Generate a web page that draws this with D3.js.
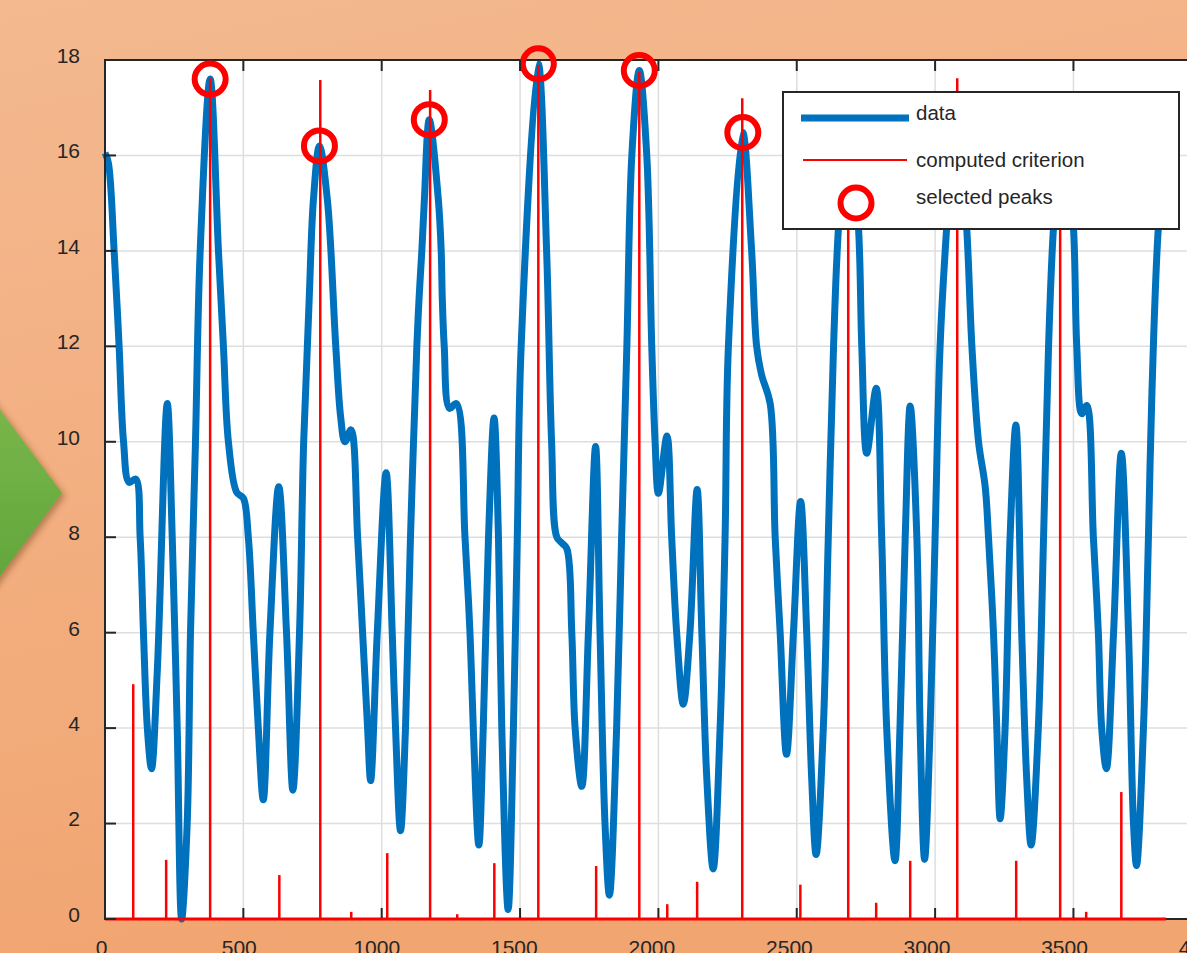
<!DOCTYPE html>
<html>
<head>
<meta charset="utf-8">
<script src="https://cdnjs.cloudflare.com/ajax/libs/d3/7.8.5/d3.min.js"></script>
<style>
  html, body { margin: 0; padding: 0; overflow: hidden; background: #f2ae80; }
  svg { display: block; }
</style>
</head>
<body>
<svg class="chart"></svg>
<script>
'use strict'
// samples of the signal
const sampleX = [0, 12, 33, 51, 67, 87, 111, 127, 139, 153, 168, 189, 225, 243, 261, 277, 297, 309, 327, 344,
  380, 410, 428, 446, 476, 500, 518, 536, 554, 572, 596, 628, 656, 679, 703, 718, 738, 753, 775, 804, 834, 852,
  867, 889, 913, 931, 949, 960, 984, 1016, 1038, 1050, 1068, 1086, 1104, 1127, 1135, 1145, 1154, 1172, 1205, 1215, 1219, 1226, 1245, 1270,
  1301, 1319, 1331, 1351, 1367, 1386, 1406, 1422, 1434, 1457, 1476, 1490, 1504, 1566, 1596, 1614, 1633, 1651, 1669,
  1687, 1699, 1723, 1747, 1773, 1789, 1807, 1823, 1849, 1867, 1886, 1904, 1931, 1958, 1976, 1988, 2000, 2031, 2048, 2066,
  2090, 2114, 2140, 2157, 2175, 2198, 2223, 2241, 2253, 2305, 2337, 2355, 2373, 2404, 2422, 2440, 2463, 2488, 2514,
  2536, 2554, 2570, 2596, 2614, 2633, 2651, 2687, 2723, 2735, 2753, 2787, 2807, 2825, 2855, 2873, 2892, 2910, 2934, 2946,
  2962, 2982, 3000, 3018, 3042, 3078, 3114, 3133, 3157, 3181, 3193, 3211, 3223, 3235, 3253, 3271, 3292, 3313, 3331, 3347,
  3373, 3392, 3410, 3428, 3464, 3500, 3512, 3530, 3548, 3572, 3590, 3602, 3619, 3645, 3673, 3699, 3717, 3728, 3753, 3771,
  3783, 3807, 3835]
const sampleY = [16.05, 15.85, 14.0, 12.0, 10.0, 9.15, 9.22, 8.0, 6.0, 4.0, 3.15, 5.2, 10.8, 8.0, 4.0, 0.0, 2.0, 6.0, 10.0, 14.0,
  17.6, 14.0, 12.0, 10.0, 8.94, 8.82, 8.0, 6.0, 4.0, 2.5, 6.0, 9.06, 6.0, 2.7, 6.0, 10.0, 13.0, 15.05, 16.2, 15.05, 12.0, 10.5,
  10.0, 10.25, 8.0, 6.0, 4.0, 2.9, 6.0, 9.35, 6.0, 4.0, 1.85, 4.0, 8.0, 12.0, 13.0, 14.0, 15.05, 16.75, 15.05, 14.0, 13.0, 12.0, 10.7, 10.8,
  8.0, 6.0, 4.0, 1.55, 4.0, 8.0, 10.5, 8.0, 4.0, 0.2, 4.0, 8.0, 12.0, 17.92, 14.0, 10.0, 8.0, 7.88, 7.76,
  6.0, 4.0, 2.78, 6.0, 9.9, 6.0, 2.0, 0.5, 4.0, 8.0, 12.0, 16.0, 17.78, 16.0, 12.0, 10.0, 8.92, 10.12, 8.0, 6.0,
  4.5, 6.0, 9.0, 6.0, 2.94, 1.05, 4.0, 8.0, 12.0, 16.48, 14.0, 12.0, 11.4, 10.8, 8.0, 6.0, 3.45, 6.0, 8.75,
  6.0, 2.94, 1.35, 4.0, 8.0, 12.0, 14.5, 16.9, 14.5, 12.0, 9.76, 11.12, 8.0, 4.0, 1.22, 4.0, 8.0, 10.75, 8.0, 4.0,
  1.25, 4.0, 8.0, 12.0, 14.5, 17.2, 14.5, 12.0, 10.0, 9.06, 8.0, 6.0, 4.0, 2.1, 4.0, 8.0, 10.35, 6.0, 2.94, 1.55,
  4.0, 8.0, 12.0, 14.5, 17.0, 14.5, 12.0, 10.59, 10.76, 8.0, 6.0, 4.0, 3.15, 6.0, 9.76, 6.0, 2.0, 1.12, 4.0, 8.0,
  10.9, 14.5, 16.2]

// computed criterion (stems)
const criterionX = [102, 221, 380, 630, 778, 890, 1020, 1175, 1273, 1407, 1566, 1775, 1931, 2032, 2140, 2303,
  2513, 2686, 2787, 2910, 3080, 3293, 3452, 3546, 3673]
const criterionY = [4.92, 1.24, 17.62, 0.92, 17.58, 0.15, 1.38, 17.37, 0.1, 1.17, 17.9, 1.11, 17.75, 0.31, 0.78, 17.2,
  0.72, 16.9, 0.34, 1.22, 17.62, 1.22, 16.9, 0.15, 2.66]

// selected peaks (one more sits under the legend)
const peakX = [380, 775, 1172, 1566, 1931, 2305, 2687]
const peakY = [17.6, 16.2, 16.75, 17.92, 17.78, 16.48, 16.9]

const xTicks = [0, 500, 1000, 1500, 2000, 2500, 3000, 3500, 4000]
const yTicks = [0, 2, 4, 6, 8, 10, 12, 14, 16, 18]
const legendLabels = ['data', 'computed criterion', 'selected peaks']

window.onload = function() {
    const width = 1187,
        height = 953,
        ink = '#262626',
        blue = '#0072BD',
        red = '#FF0000',
        font = '"Liberation Sans", Arial, Helvetica, sans-serif',

        x = d3.scaleLinear()
          .domain([0, 4000])
          .range([105, 105 + 4000 * 0.2767]),
        y = d3.scaleLinear()
          .domain([0, 18])
          .range([919, 60]),
        // tick labels sit a little left of their ticks in the picture
        xLabel = d3.scaleLinear()
          .domain([0, 3500])
          .range([101.7, 1064.5])

    const svg = d3.select('.chart')
      .attr('width', width)
      .attr('height', height)

    const defs = svg.append('defs')
    const bg = defs.append('linearGradient')
      .attr('id', 'bg')
      .attr('x1', 0).attr('y1', 0).attr('x2', 0.25).attr('y2', 1)
    bg.append('stop').attr('offset', 0).attr('stop-color', '#f4b990')
    bg.append('stop').attr('offset', 1).attr('stop-color', '#f1a571')

    const green = defs.append('linearGradient')
      .attr('id', 'green')
      .attr('x1', 0).attr('y1', 0).attr('x2', 0).attr('y2', 1)
    green.append('stop').attr('offset', 0).attr('stop-color', '#7cb84c')
    green.append('stop').attr('offset', 1).attr('stop-color', '#5fa43a')

    defs.append('filter')
      .attr('id', 'shadow')
      .attr('x', -0.5).attr('y', -0.5).attr('width', 2).attr('height', 2)
      .append('feDropShadow')
      .attr('dx', 3).attr('dy', 3).attr('stdDeviation', 3)
      .attr('flood-color', '#6b3a1a').attr('flood-opacity', 0.45)

    svg.append('rect')
      .attr('width', width)
      .attr('height', height)
      .attr('fill', 'url(#bg)')

    // slide arrow peeking in on the left
    svg.append('path')
      .attr('d', 'M-20,383 L62,493 L-20,603 Z')
      .attr('fill', 'url(#green)')
      .attr('filter', 'url(#shadow)')

    const plot = svg.append('g')

    plot.append('rect')
      .attr('x', x(0))
      .attr('y', y(18))
      .attr('width', x(4000) - x(0))
      .attr('height', y(0) - y(18))
      .attr('fill', '#fff')

    // grid
    plot.append('g')
      .selectAll('line.vx')
      .data(xTicks.slice(1))
      .enter().append('line')
      .attr('x1', d => x(d)).attr('x2', d => x(d))
      .attr('y1', y(0)).attr('y2', y(18))
      .attr('stroke', '#dedede').attr('stroke-width', 1.5)
    plot.append('g')
      .selectAll('line.hy')
      .data(yTicks.slice(1))
      .enter().append('line')
      .attr('x1', x(0)).attr('x2', x(4000))
      .attr('y1', d => y(d)).attr('y2', d => y(d))
      .attr('stroke', '#dedede').attr('stroke-width', 1.5)

    const line = d3.line()
      .x((d, i) => x(sampleX[i]))
      .y(d => y(d))
      .curve(d3.curveCatmullRom.alpha(0.5))

    plot.append('path')
      .datum(sampleY)
      .attr('d', line)
      .attr('fill', 'none')
      .attr('stroke', blue)
      .attr('stroke-width', 7)
      .attr('stroke-linejoin', 'round')

    // axis box (left, top, bottom)
    plot.append('path')
      .attr('d', 'M' + x(4000) + ',' + y(18) + 'H' + x(0) + 'V' + y(0) + 'H' + x(4000))
      .attr('fill', 'none')
      .attr('stroke', ink)
      .attr('stroke-width', 2)

    plot.append('g')
      .selectAll('line')
      .data(criterionY)
      .enter().append('line')
      .attr('x1', (d, i) => x(criterionX[i]))
      .attr('x2', (d, i) => x(criterionX[i]))
      .attr('y1', y(0))
      .attr('y2', d => y(d))
      .attr('stroke', red)
      .attr('stroke-width', 2.5)

    plot.append('line')
      .attr('x1', x(0)).attr('x2', x(sampleX[sampleX.length - 1]))
      .attr('y1', y(0)).attr('y2', y(0))
      .attr('stroke', red)
      .attr('stroke-width', 3)

    plot.append('g')
      .selectAll('circle')
      .data(peakY)
      .enter().append('circle')
      .attr('cx', (d, i) => x(peakX[i]))
      .attr('cy', d => y(d))
      .attr('r', 15.5)
      .attr('fill', 'none')
      .attr('stroke', red)
      .attr('stroke-width', 6)

    // inward ticks
    const ticks = plot.append('g')
      .attr('stroke', ink)
      .attr('stroke-width', 2)
    ticks.selectAll('line.l')
      .data(yTicks)
      .enter().append('line')
      .attr('x1', x(0)).attr('x2', x(0) + 11)
      .attr('y1', d => y(d)).attr('y2', d => y(d))
    ticks.selectAll('line.t')
      .data(xTicks)
      .enter().append('line')
      .attr('x1', d => x(d)).attr('x2', d => x(d))
      .attr('y1', y(18)).attr('y2', y(18) + 11)
    ticks.selectAll('line.b')
      .data(xTicks)
      .enter().append('line')
      .attr('x1', d => x(d)).attr('x2', d => x(d))
      .attr('y1', y(0) - 11).attr('y2', y(0) - 1)

    svg.append('g')
      .selectAll('text')
      .data(yTicks)
      .enter().append('text')
      .attr('x', 80)
      .attr('y', d => y(d) - 4.5)
      .attr('dy', '0.35em')
      .attr('text-anchor', 'end')
      .attr('font-family', font)
      .attr('font-size', 21)
      .attr('fill', ink)
      .text(d => d)

    svg.append('g')
      .selectAll('text')
      .data(xTicks)
      .enter().append('text')
      .attr('x', d => xLabel(d))
      .attr('y', 955)
      .attr('text-anchor', 'middle')
      .attr('font-family', font)
      .attr('font-size', 21)
      .attr('fill', ink)
      .text(d => d)

    // legend
    const legend = svg.append('g')
    legend.append('rect')
      .attr('x', 783).attr('y', 92)
      .attr('width', 396).attr('height', 137)
      .attr('fill', '#fff')
      .attr('stroke', ink)
      .attr('stroke-width', 2)

    legend.append('line')
      .attr('x1', 801).attr('x2', 909)
      .attr('y1', 118).attr('y2', 118)
      .attr('stroke', blue).attr('stroke-width', 7)
    legend.append('line')
      .attr('x1', 803).attr('x2', 907)
      .attr('y1', 160).attr('y2', 160)
      .attr('stroke', red).attr('stroke-width', 2)
    legend.append('circle')
      .attr('cx', 856).attr('cy', 203)
      .attr('r', 15.5)
      .attr('fill', 'none')
      .attr('stroke', red).attr('stroke-width', 6)

    legend.selectAll('text')
      .data(legendLabels)
      .enter().append('text')
      .attr('x', 916)
      .attr('y', (d, i) => [120, 167, 204][i])
      .attr('font-family', font)
      .attr('font-size', 20.5)
      .attr('fill', ink)
      .text(d => d)
}
</script>
</body>
</html>
